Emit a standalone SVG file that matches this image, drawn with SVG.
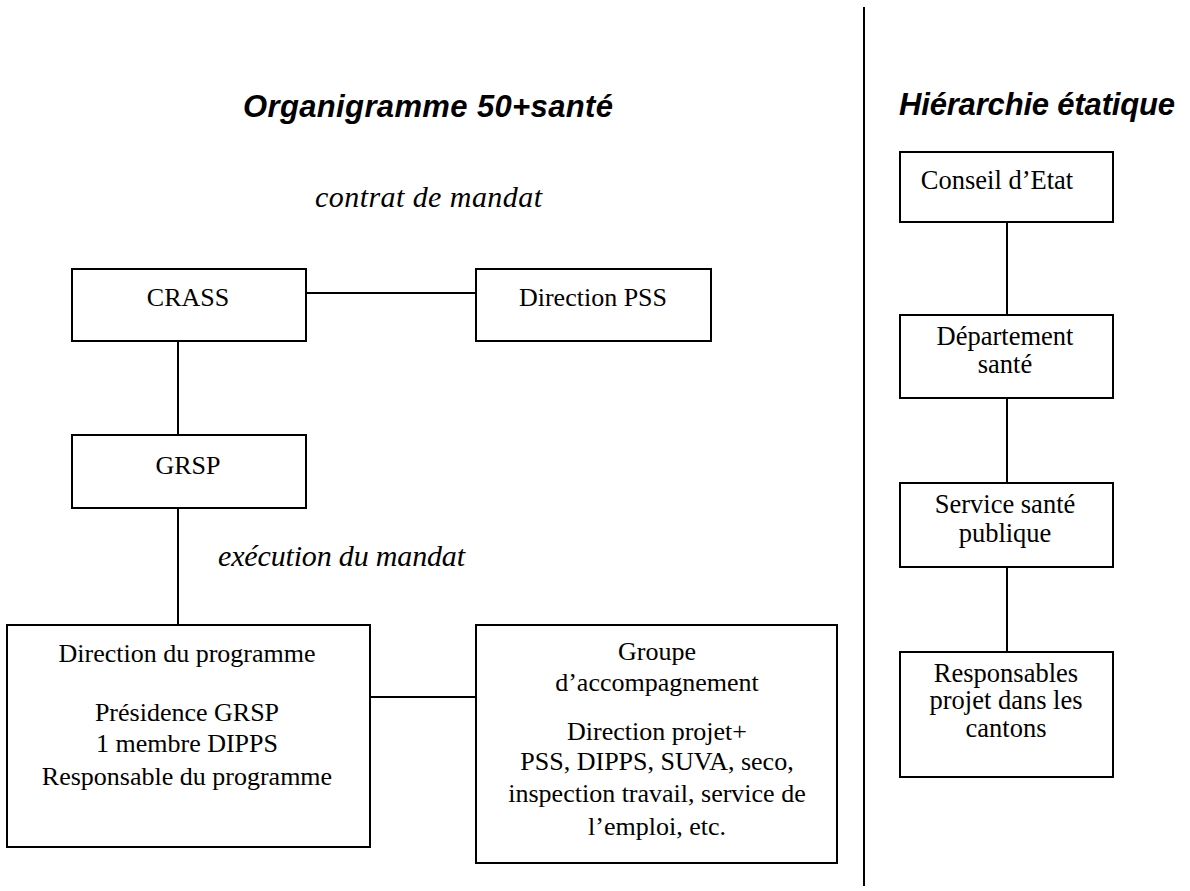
<svg xmlns="http://www.w3.org/2000/svg" width="1190" height="891" viewBox="0 0 1190 891">
<style>
.box{fill:#fff;stroke:#000;stroke-width:2}
.ln{stroke:#000;stroke-width:2;fill:none}
.t{font-family:"Liberation Serif","Times New Roman",serif;font-size:26px;fill:#000;text-anchor:middle}
.r{font-size:26.5px}
.it{font-family:"Liberation Serif","Times New Roman",serif;font-size:30px;font-style:italic;fill:#000}
.h{font-family:"Liberation Sans",Arial,sans-serif;font-size:31px;font-weight:bold;font-style:italic;fill:#000}
</style>
<rect width="1190" height="891" fill="#fff"/>
<text class="h" x="243" y="117" textLength="370" lengthAdjust="spacing">Organigramme 50+santé</text>
<text class="h" x="899" y="115" textLength="276" lengthAdjust="spacing">Hiérarchie étatique</text>
<text class="it" x="315" y="207" textLength="227" lengthAdjust="spacing">contrat de mandat</text>
<text class="it" x="218" y="566" textLength="247" lengthAdjust="spacing">exécution du mandat</text>
<g id="connectors">
<line class="ln" x1="864" y1="7" x2="864" y2="886"/>
<line class="ln" x1="306" y1="293" x2="476" y2="293"/>
<line class="ln" x1="178" y1="341" x2="178" y2="435"/>
<line class="ln" x1="178" y1="508" x2="178" y2="625"/>
<line class="ln" x1="370" y1="697" x2="476" y2="697"/>
<line class="ln" x1="1007" y1="222" x2="1007" y2="315"/>
<line class="ln" x1="1007" y1="398" x2="1007" y2="483"/>
<line class="ln" x1="1007" y1="567" x2="1007" y2="652"/>
</g>
<g id="crass">
<rect class="box" x="72" y="269" width="234" height="72"/>
<text class="t" x="188" y="306">CRASS</text>
</g>
<g id="direction-pss">
<rect class="box" x="476" y="269" width="235" height="72"/>
<text class="t" x="593" y="306">Direction PSS</text>
</g>
<g id="grsp">
<rect class="box" x="72" y="435" width="234" height="73"/>
<text class="t" x="188" y="474">GRSP</text>
</g>
<g id="direction-programme">
<rect class="box" x="7" y="625" width="363" height="222"/>
<text class="t" x="187" y="662">Direction du programme</text>
<text class="t" x="187" y="721">Présidence GRSP</text>
<text class="t" x="187" y="752">1 membre DIPPS</text>
<text class="t" x="187" y="785">Responsable du programme</text>
</g>
<g id="groupe-accompagnement">
<rect class="box" x="476" y="625" width="361" height="238"/>
<text class="t" x="657" y="660">Groupe</text>
<text class="t" x="657" y="691">d’accompagnement</text>
<text class="t" x="657" y="740">Direction projet+</text>
<text class="t" x="657" y="770">PSS, DIPPS, SUVA, seco,</text>
<text class="t" x="657" y="802">inspection travail, service de</text>
<text class="t" x="657" y="835">l’emploi, etc.</text>
</g>
<g id="conseil-etat">
<rect class="box" x="900" y="152" width="213" height="70"/>
<text class="t r" x="997" y="189">Conseil d’Etat</text>
</g>
<g id="departement-sante">
<rect class="box" x="900" y="315" width="213" height="83"/>
<text class="t r" x="1005" y="345">Département</text>
<text class="t r" x="1005" y="373">santé</text>
</g>
<g id="service-sante-publique">
<rect class="box" x="900" y="483" width="213" height="84"/>
<text class="t r" x="1005" y="513">Service santé</text>
<text class="t r" x="1005" y="542">publique</text>
</g>
<g id="responsables-projet">
<rect class="box" x="900" y="652" width="213" height="125"/>
<text class="t r" x="1006" y="682">Responsables</text>
<text class="t r" x="1006" y="709">projet dans les</text>
<text class="t r" x="1006" y="737">cantons</text>
</g>
</svg>
